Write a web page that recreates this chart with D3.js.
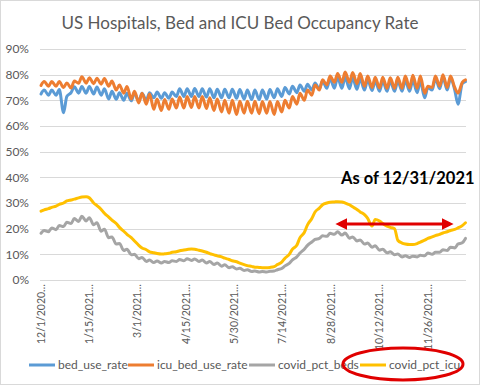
<!DOCTYPE html>
<html>
<head>
<meta charset="utf-8">
<script src="https://cdn.jsdelivr.net/npm/d3@7"></script>
<style>
  body { margin: 0; background: #fff; }
  text { font-family: Lato, "Open Sans", sans-serif; }
</style>
</head>
<body>
<svg id="chart"></svg>
<script>
// Sampled twice a week: day offsets from 12/1/2020 (days 7k and 7k+3)
const sampleDays = d3.range(0, 57).flatMap(k => [7 * k, 7 * k + 3]);

const tickDays = [0, 45, 90, 135, 180, 225, 270, 315, 360];
const tickLabels = ["12/1/2020…", "1/15/2021…", "3/1/2021…", "4/15/2021…", "5/30/2021…",
  "7/14/2021…", "8/28/2021…", "10/12/2021…", "11/26/2021…"];

const bedUseRate = [
  72.5,74.0, 72.0,74.0, 72.0,74.2, 65.2,71.5, 73.0,75.3, 72.8,75.4, 72.8,75.4, 72.5,75.2, 72.0,74.5, 70.5,73.5,
  70.4,73.0, 70.0,72.8, 69.8,72.8, 69.6,72.8, 70.0,73.0, 71.0,73.2, 70.8,73.0, 70.8,73.2, 71.5,74.5, 71.5,74.5,
  71.5,74.6, 71.5,74.5, 71.3,74.5, 71.0,74.3, 71.0,74.3, 71.0,74.3, 70.8,74.2, 70.5,74.0, 70.3,74.0, 70.3,74.0,
  70.5,74.2, 71.0,74.5, 71.5,75.0, 72.5,75.5, 73.0,76.0, 73.5,76.3, 74.0,76.8, 74.5,77.5, 74.7,78.5, 74.7,79.0,
  74.7,79.0, 74.5,78.8, 74.3,78.5, 74.0,78.0, 73.8,77.5, 73.5,77.5, 73.5,77.5, 73.5,77.5, 73.5,77.8, 73.5,77.8,
  73.0,77.5, 71.0,75.0, 74.0,78.5, 74.5,79.0, 74.0,78.5, 74.0,68.5, 76.5,77.3
];

const icuBedUseRate = [
  75.8,77.3, 75.5,77.3, 75.5,77.3, 75.0,76.8, 74.8,77.5, 76.7,79.2, 76.7,78.8, 76.5,78.6, 76.3,78.5, 75.5,77.5,
  74.0,76.0, 72.8,75.4, 70.5,73.5, 69.0,72.8, 68.5,72.5, 66.5,70.5, 66.0,70.3, 66.5,70.5, 67.0,71.3, 67.0,71.5,
  67.2,71.5, 67.0,71.5, 66.8,71.0, 66.0,70.5, 65.5,70.0, 65.0,70.0, 64.5,69.6, 65.0,69.6, 65.0,69.6, 64.8,69.5,
  65.0,69.5, 64.5,69.5, 65.5,70.0, 67.0,71.5, 68.5,72.8, 70.0,74.0, 72.0,76.0, 74.0,78.0, 76.0,79.5, 77.0,80.5,
  77.0,81.0, 77.0,80.8, 76.5,80.5, 75.5,79.5, 75.0,79.0, 74.8,79.0, 74.7,78.8, 74.7,79.0, 74.7,79.5, 74.8,79.8,
  74.7,79.5, 72.8,75.5, 75.0,79.5, 75.5,80.0, 75.0,79.5, 75.0,72.8, 77.0,78.0
];

const covidPctBeds = [
  18.2,19.3, 18.8,20.3, 19.6,21.2, 20.8,22.5, 22.0,24.0, 22.8,24.8, 23.0,24.3, 21.5,22.3, 19.0,19.8, 16.5,16.8,
  14.0,14.2, 11.5,12.0, 9.8,10.0, 8.3,8.8, 7.2,7.8, 6.8,7.4, 6.6,7.2, 6.8,7.5, 7.2,8.0, 7.5,8.3,
  7.6,8.2, 7.2,7.8, 6.6,7.2, 6.0,6.6, 5.4,5.9, 4.8,5.2, 4.3,4.6, 3.7,4.0, 3.3,3.5, 3.1,3.3,
  3.1,3.4, 3.5,4.0, 4.5,5.5, 6.5,7.8, 9.0,10.5, 12.0,13.5, 14.8,15.8, 16.2,17.2, 17.0,18.2, 17.8,18.8,
  17.5,18.3, 16.3,16.8, 15.2,15.6, 14.0,14.4, 12.8,13.3, 11.6,12.0, 10.6,11.0, 9.8,10.1, 9.0,9.4, 8.8,9.3,
  9.0,9.6, 9.4,10.5, 10.0,10.8, 10.8,11.8, 11.5,12.8, 12.5,14.0, 14.5,16.2
];

const covidPctIcu = [
  26.8,27.3, 27.8,28.3, 28.8,29.5, 30.0,30.8, 31.2,31.5, 32.0,32.3, 32.4,32.0, 30.0,29.0, 27.5,26.0, 24.5,23.3,
  22.0,20.5, 19.0,17.8, 16.5,15.2, 13.5,12.5, 11.8,11.0, 10.6,10.3, 10.1,10.2, 10.4,10.8, 11.0,11.4, 11.7,11.9,
  12.1,12.0, 11.6,11.3, 10.8,10.3, 9.8,9.4, 9.0,8.5, 8.0,7.5, 7.1,6.6, 6.0,5.6, 5.3,5.0, 4.9,4.8,
  4.8,4.9, 5.2,6.0, 7.0,8.5, 10.0,12.0, 13.5,16.5, 18.5,21.5, 24.0,26.5, 28.0,29.3, 30.0,30.3, 30.4,30.5,
  30.4,30.0, 29.3,28.5, 27.5,26.5, 25.5,24.0, 21.0,23.6, 23.0,22.0, 21.0,20.5, 20.0,15.5, 14.4,14.0, 13.8,13.8,
  14.2,14.8, 15.5,16.2, 16.8,17.3, 17.8,18.3, 18.8,19.3, 19.7,20.3, 21.2,22.3
];

const seriesNames = ["bed_use_rate", "icu_bed_use_rate", "covid_pct_beds", "covid_pct_icu"];
const seriesColors = ["#5B9BD5", "#ED7D31", "#A5A5A5", "#FFC000"];
const seriesValues = [bedUseRate, icuBedUseRate, covidPctBeds, covidPctIcu];

const yTicks = [0, 10, 20, 30, 40, 50, 60, 70, 80, 90];

const width = 480, height = 385;
const svg = d3.select("#chart").attr("width", width).attr("height", height);

// chart frame
svg.append("rect")
    .attr("x", 0.5).attr("y", 0.5)
    .attr("width", width - 1).attr("height", height - 1)
    .attr("fill", "#fff").attr("stroke", "#D9D9D9");

// title
svg.append("text")
    .attr("x", 240).attr("y", 29)
    .attr("text-anchor", "middle")
    .attr("font-size", 17)
    .attr("fill", "#595959")
    .text("US Hospitals, Bed and ICU Bed Occupancy Rate");

const x = d3.scaleLinear().domain([0, 395]).range([41, 465.5]);
const y = d3.scaleLinear().domain([0, 90]).range([280, 49]);

// gridlines
svg.append("g").selectAll("line")
    .data(yTicks)
    .join("line")
    .attr("x1", 40).attr("x2", 466)
    .attr("y1", d => Math.round(y(d)) + 0.5)
    .attr("y2", d => Math.round(y(d)) + 0.5)
    .attr("stroke", "#D9D9D9");

// y tick labels
svg.append("g").selectAll("text")
    .data(yTicks)
    .join("text")
    .attr("x", 29).attr("y", d => y(d))
    .attr("dy", "0.35em")
    .attr("text-anchor", "end")
    .attr("font-size", 12)
    .attr("fill", "#595959")
    .text(d => d + "%");

// x tick labels (rotated)
svg.append("g").selectAll("text")
    .data(tickDays)
    .join("text")
    .attr("transform", d => `translate(${x(d)},284) rotate(-90)`)
    .attr("dy", "0.35em")
    .attr("text-anchor", "end")
    .attr("font-size", 10.5)
    .attr("fill", "#595959")
    .text((d, i) => tickLabels[i]);

// series lines
const line = d3.line()
    .x((d, i) => x(sampleDays[i]))
    .y(d => y(d))
    .curve(d3.curveMonotoneX);

svg.append("g").selectAll("path")
    .data(seriesValues)
    .join("path")
    .attr("d", d => line(d))
    .attr("fill", "none")
    .attr("stroke", (d, i) => seriesColors[i])
    .attr("stroke-width", 3)
    .attr("stroke-linejoin", "round")
    .attr("stroke-linecap", "round");

// annotation
svg.append("text")
    .attr("x", 341).attr("y", 184)
    .attr("font-size", 16.5)
    .attr("font-weight", "bold")
    .attr("fill", "#000")
    .text("As of 12/31/2021");

// red double arrow
const defs = svg.append("defs");
defs.append("marker")
    .attr("id", "arrow")
    .attr("viewBox", "0 0 10 10")
    .attr("refX", 7).attr("refY", 5)
    .attr("markerWidth", 4).attr("markerHeight", 4)
    .attr("orient", "auto-start-reverse")
    .append("path")
    .attr("d", "M0,0L10,5L0,10Z")
    .attr("fill", "#E00000");

svg.append("line")
    .attr("x1", 339).attr("x2", 450)
    .attr("y1", 224).attr("y2", 224)
    .attr("stroke", "#E00000")
    .attr("stroke-width", 3)
    .attr("marker-start", "url(#arrow)")
    .attr("marker-end", "url(#arrow)");

// legend
const legendX = [29, 128, 249, 360];
const legend = svg.append("g").selectAll("g")
    .data(seriesNames)
    .join("g")
    .attr("transform", (d, i) => `translate(${legendX[i]},365)`);

legend.append("line")
    .attr("x1", 0).attr("x2", 26)
    .attr("stroke", (d, i) => seriesColors[i])
    .attr("stroke-width", 3);

legend.append("text")
    .attr("x", 29).attr("dy", "0.35em")
    .attr("font-size", 12)
    .attr("fill", "#595959")
    .text(d => d);

// red ellipse around the covid_pct_icu legend entry
svg.append("ellipse")
    .attr("cx", 403).attr("cy", 364)
    .attr("rx", 60).attr("ry", 16)
    .attr("fill", "none")
    .attr("stroke", "#E00000")
    .attr("stroke-width", 3);
</script>
</body>
</html>
